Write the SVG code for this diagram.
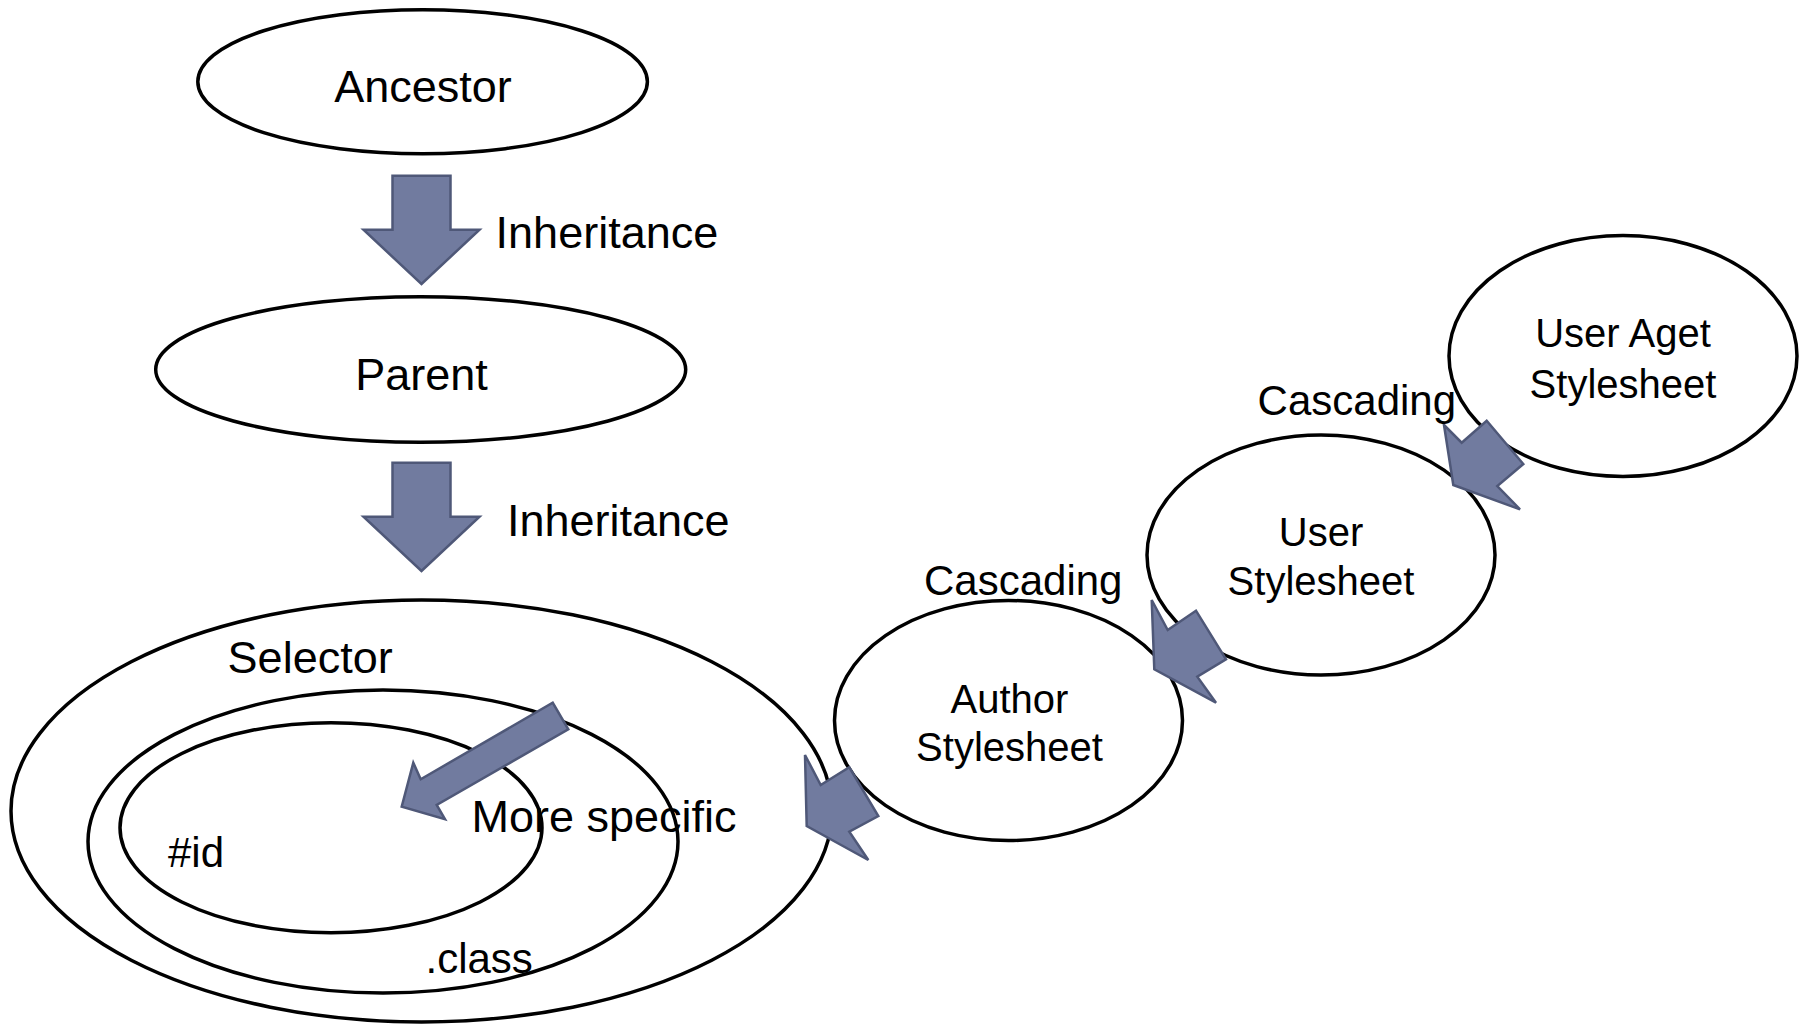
<svg xmlns="http://www.w3.org/2000/svg" xmlns:xlink="http://www.w3.org/1999/xlink" width="1799" height="1025" viewBox="0 0 1799 1025">
  <style>
    .node { fill: #ffffff; stroke: #000000; stroke-width: 3.5; }
    .ring { fill: none; stroke: #000000; stroke-width: 3.5; }
    .arrow { fill: #717b9f; stroke: #4f5878; stroke-width: 2.5; stroke-linejoin: miter; }
    text { font-family: "Liberation Sans", Arial, sans-serif; fill: #000000; }
    .big { font-size: 45px; }
    .mid { font-size: 42px; }
    .small { font-size: 40px; }
  </style>
  <defs>
    <!-- vertical block arrow, tail at y=0 -->
    <polygon id="downArrow" points="-29,0 29,0 29,54 58,54 0,108.3 -58,54 -29,54"/>
  </defs>
  <rect width="1799" height="1025" fill="#ffffff"/>

  <g id="ancestor">
    <ellipse class="node" cx="422.6" cy="81.7" rx="224.8" ry="72"/>
    <text class="big" x="423" y="102" text-anchor="middle">Ancestor</text>
  </g>

  <g id="parent">
    <ellipse class="node" cx="420.7" cy="369.5" rx="265" ry="72.8"/>
    <text class="big" x="421.5" y="390" text-anchor="middle">Parent</text>
  </g>

  <g id="selector">
    <ellipse class="node" cx="421.5" cy="811" rx="410.5" ry="211"/>
    <text class="big" x="227.6" y="673">Selector</text>
  </g>

  <g id="class">
    <ellipse class="ring" cx="383" cy="841.5" rx="295" ry="151.5"/>
    <text class="mid" x="425.5" y="973">.class</text>
  </g>

  <g id="idsel">
    <ellipse class="ring" cx="331" cy="827.7" rx="211" ry="105"/>
    <text class="mid" x="168" y="867">#id</text>
  </g>

  <g id="author">
    <ellipse class="node" cx="1008.5" cy="720.5" rx="174" ry="120"/>
    <text class="small" x="1009.5" y="712.5" text-anchor="middle">Author</text>
    <text class="small" x="1009.5" y="761" text-anchor="middle">Stylesheet</text>
  </g>

  <g id="user">
    <ellipse class="node" cx="1321" cy="555" rx="174" ry="120"/>
    <text class="small" x="1321" y="545.5" text-anchor="middle">User</text>
    <text class="small" x="1321" y="595" text-anchor="middle">Stylesheet</text>
  </g>

  <g id="useragent">
    <ellipse class="node" cx="1623" cy="356" rx="174" ry="120.5"/>
    <text class="small" x="1623" y="346.5" text-anchor="middle">User Aget</text>
    <text class="small" x="1623" y="398" text-anchor="middle">Stylesheet</text>
  </g>

  <g id="connectors">
    <!-- inheritance arrows -->
    <use xlink:href="#downArrow" class="arrow" x="421.5" y="175.7"/>
    <text class="big" x="495.6" y="248">Inheritance</text>
    <use xlink:href="#downArrow" class="arrow" x="421.5" y="462.7"/>
    <text class="big" x="507" y="536">Inheritance</text>

    <!-- specificity arrow -->
    <polygon class="arrow" points="552.7,702.7 568.3,729.3 436.7,805 445,819.3 401.7,806.7 413.3,762.7 420.7,779.3"/>
    <text class="big" x="471.5" y="832">More specific</text>

    <!-- cascading arrows -->
    <polygon class="arrow" points="1444,425 1461.7,442.7 1486.7,420.7 1523.3,464 1497.3,486 1520,509.3 1453.3,485"/>
    <text class="mid" x="1257.6" y="415">Cascading</text>
    <polygon class="arrow" points="1151.7,600 1167.7,630 1196,610.7 1226,659.3 1197.3,676.7 1216,702.7 1154.3,669.3"/>
    <text class="mid" x="924" y="595">Cascading</text>
    <polygon class="arrow" points="805,755 820.7,785 849.3,767.3 878.3,816 849.3,831.7 868.3,860 806.7,826"/>
  </g>
</svg>
